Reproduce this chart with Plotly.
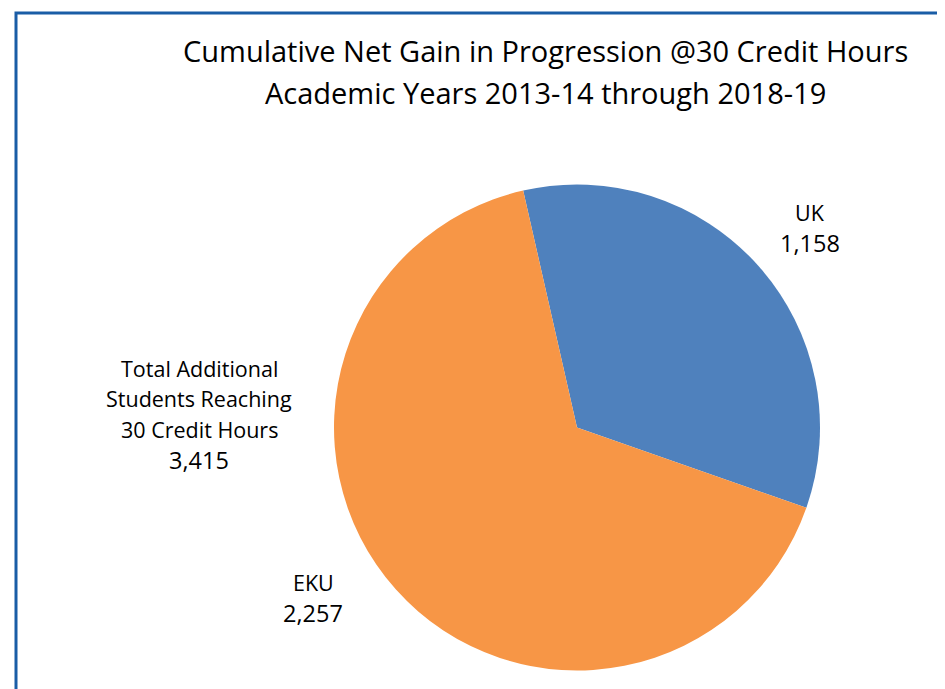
import plotly.graph_objects as go

labels = ["UK", "EKU"]
values = [1158, 2257]
colors = ["#4F81BD", "#F79646"]
total_lines = ["Total Additional", "Students Reaching", "30 Credit Hours"]
total_value = 3415
title_lines = ["Cumulative Net Gain in Progression @30 Credit Hours",
               "Academic Years 2013-14 through 2018-19"]

W, H = 945, 689
OFF = 8  # page body margin
FONT = "Open Sans"

def px(x, y):
    return (x - OFF) / W, 1 - (y - OFF) / H

cx, cy, r = 577, 427.5, 243
x0, y0 = px(cx - r, cy + r)
x1, y1 = px(cx + r, cy - r)

fig = go.Figure(go.Pie(
    labels=labels, values=values, sort=False, direction="clockwise",
    rotation=-12.8, textinfo="none", hoverinfo="label+value",
    marker=dict(colors=colors, line=dict(width=0)),
    domain=dict(x=[x0, x1], y=[y0, y1]),
    showlegend=False,
))

anns = []
def add(txt, x, y, size):
    ax, ay = px(x, y)
    anns.append(dict(text=txt, x=ax, y=ay, xref="paper", yref="paper",
                     showarrow=False, xanchor="center", yanchor="middle",
                     font=dict(family=FONT, size=size, color="#000")))

for txt, y in zip(title_lines, [50, 92]):
    add(txt, 545, y, 29)

lab_pos = {"UK": (810, 212), "EKU": (313, 582)}
for lab, val in zip(labels, values):
    x, y = lab_pos[lab]
    add(lab, x, y, 21.5)
    add(f"{val:,}", x, y + 31, 23.5)

for txt, y in zip(total_lines, [368, 398, 429]):
    add(txt, 199, y, 21.5)
add(f"{total_value:,}", 199, 460, 23.5)

bx0, by1 = px(16, 13)
fig.update_layout(
    width=W, height=H, margin=dict(l=0, r=0, t=0, b=0),
    paper_bgcolor="white", plot_bgcolor="white",
    annotations=anns,
    shapes=[dict(type="rect", xref="paper", yref="paper",
                 x0=bx0, x1=1.2, y0=-0.2, y1=by1,
                 line=dict(color="#1a5da6", width=3))],
)

fig.write_html("out.html")
